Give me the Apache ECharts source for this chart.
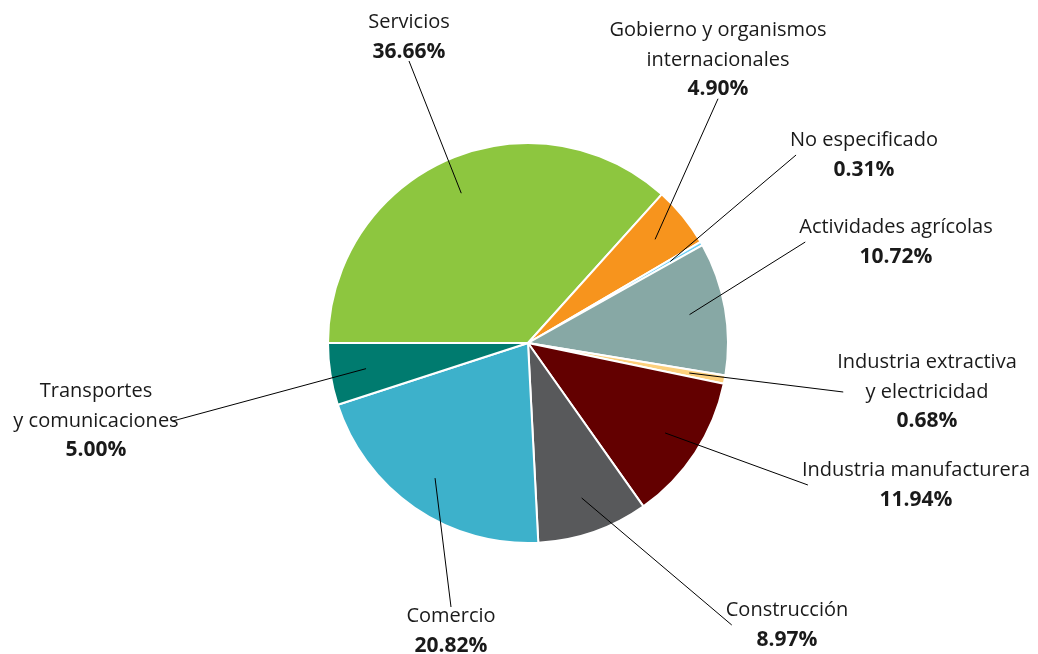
<!DOCTYPE html>
<html lang="es">
  <head>
    <meta charset="UTF-8" />
    <meta name="viewport" content="width=device-width, initial-scale=1.0" />
    <title>Distribución por sector</title>
    <script src="https://cdn.jsdelivr.net/npm/echarts@6.0.0/dist/echarts.min.js"></script>
    <style>
      html, body { margin: 0; padding: 0; background: #fff; }
    </style>
  </head>
  <body>
    <div id="main" style="width: 1038px; height: 654px"></div>
    <script type="text/javascript">
      // sectors, clockwise from 9 o'clock
      const sectors = [
        "Servicios",
        "Gobierno y organismos\ninternacionales",
        "No especificado",
        "Actividades agrícolas",
        "Industria extractiva\ny electricidad",
        "Industria manufacturera",
        "Construcción",
        "Comercio",
        "Transportes\ny comunicaciones",
      ];
      const shares = [36.66, 4.9, 0.31, 10.72, 0.68, 11.94, 8.97, 20.82, 5.0];

      const colors = [
        "#8dc63f", "#f7941d", "#6dcff6", "#87a8a5", "#fdd07c",
        "#630000", "#58595b", "#3db1cb", "#007b6f",
      ];

      // centre of each label block (px)
      const labelPos = [
        [409, 37], [718, 60], [864, 155], [896, 242], [927, 392],
        [916, 485], [787, 625], [451, 631], [96, 421],
      ];

      const center = [528, 343];
      const font = "'Open Sans', sans-serif";

      let myChart = echarts.init(document.getElementById("main"));

      const pieData = sectors.map((name, i) => ({
        name: name,
        value: shares[i],
        itemStyle: { color: colors[i] },
      }));

      // leader line goes from inside the slice to the nearest side of the label
      function placeLabel(p) {
        const c = labelPos[p.dataIndex];
        const w = p.labelRect.width;
        const h = p.labelRect.height;
        const s = p.labelLinePoints[0];
        const anchors = [
          [c[0] - w / 2 + 6, c[1]],
          [c[0] + w / 2 - 6, c[1]],
          [c[0], c[1] - h / 2 + 1],
          [c[0], c[1] + h / 2 - 1],
        ];
        let best = anchors[0];
        let bestD = Infinity;
        anchors.forEach((a) => {
          const d = Math.hypot(a[0] - s[0], a[1] - s[1]);
          if (d < bestD) { bestD = d; best = a; }
        });
        return {
          x: c[0],
          y: c[1],
          align: "center",
          verticalAlign: "middle",
          labelLinePoints: [s, s, best],
        };
      }

      let options = {
        animation: false,
        backgroundColor: "#fff",
        series: [
          {
            type: "pie",
            z: 1,
            center: center,
            radius: 200,
            startAngle: 180,
            clockwise: true,
            silent: true,
            label: { show: false },
            labelLine: { show: false },
            itemStyle: { borderColor: "#fff", borderWidth: 2 },
            data: pieData,
          },
          {
            // invisible inner ring that carries labels and leader lines
            type: "pie",
            z: 5,
            center: center,
            radius: 164,
            startAngle: 180,
            clockwise: true,
            silent: true,
            avoidLabelOverlap: false,
            itemStyle: { color: "transparent", borderWidth: 0 },
            label: {
              show: true,
              position: "outside",
              overflow: "none",
              formatter: (p) =>
                p.name.split("\n").map((s) => "{n|" + s + "}").join("\n") +
                "\n{v|" + p.value.toFixed(2) + "%}",
              rich: {
                n: { fontFamily: font, fontSize: 20, color: "#1a1a1a", lineHeight: 29.5, align: "center" },
                v: { fontFamily: font, fontSize: 21, fontWeight: "bold", color: "#1a1a1a", lineHeight: 29.5, align: "center" },
              },
            },
            labelLine: {
              show: true,
              length: 10,
              length2: 10,
              lineStyle: { color: "#000", width: 1 },
            },
            labelLayout: placeLabel,
            data: sectors.map((name, i) => ({ name: name, value: shares[i] })),
          },
        ],
      };

      myChart.setOption(options);
    </script>
  </body>
</html>
